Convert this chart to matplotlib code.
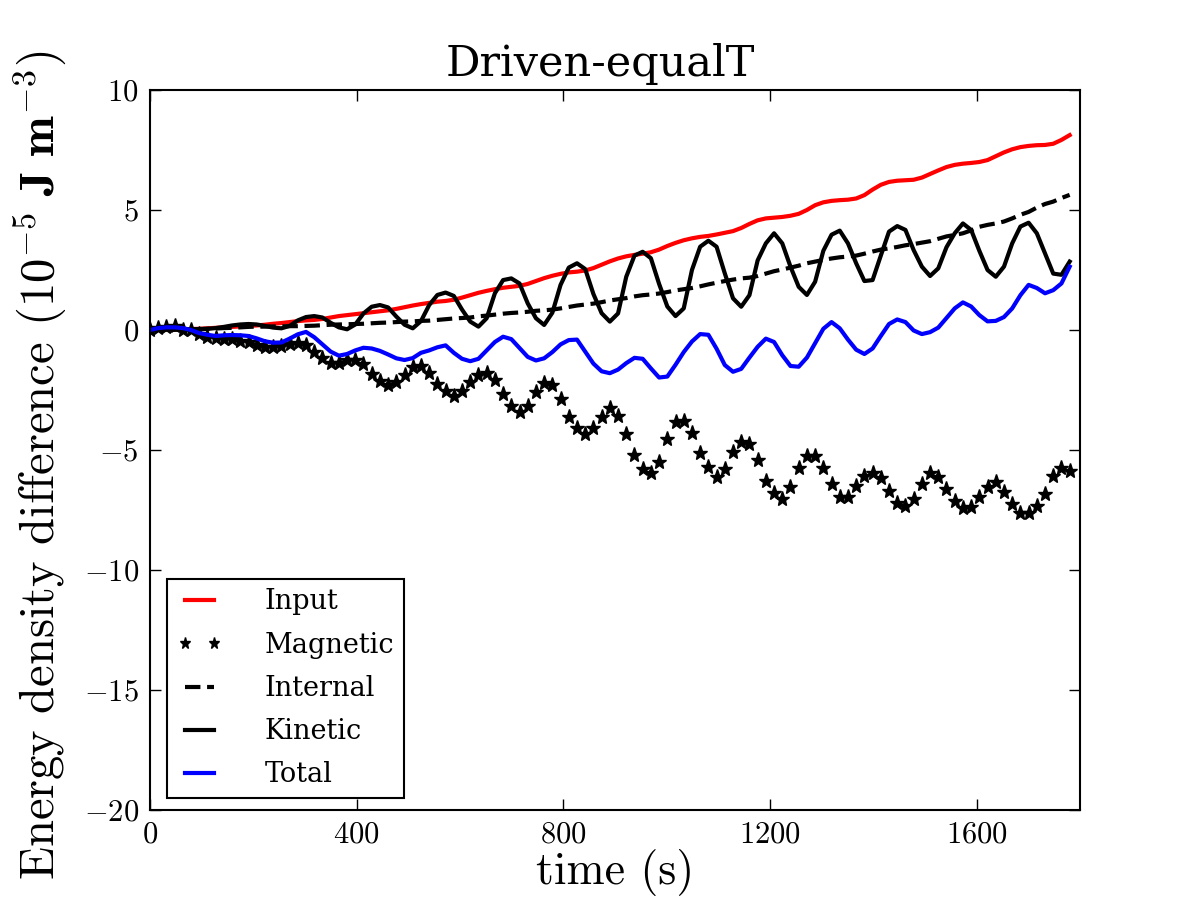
#!/usr/bin/env python3
"""Energy density differences for the Driven-equalT run."""

import numpy as np
import matplotlib
matplotlib.use("Agg")
import matplotlib.pyplot as plt

# energy density differences in units of 1e-5 J m^-3, sampled every ~15.9 s
energy_input = [
    0.0, 0.0, 0.01, 0.02, 0.03, 0.04, 0.05, 0.07, 0.09, 0.11,
    0.13, 0.15, 0.17, 0.19, 0.22, 0.26, 0.29, 0.33, 0.37, 0.4,
    0.42, 0.46, 0.52, 0.58, 0.62, 0.66, 0.7, 0.74, 0.78, 0.82,
    0.88, 0.95, 1.02, 1.08, 1.13, 1.18, 1.21, 1.26, 1.35, 1.45,
    1.55, 1.63, 1.7, 1.76, 1.8, 1.84, 1.92, 2.04, 2.16, 2.26,
    2.34, 2.4, 2.43, 2.48, 2.58, 2.72, 2.86, 2.98, 3.07, 3.13,
    3.18, 3.24, 3.35, 3.5, 3.63, 3.74, 3.82, 3.88, 3.92, 3.98,
    4.05, 4.12, 4.25, 4.42, 4.57, 4.65, 4.68, 4.71, 4.76, 4.84,
    5.0, 5.2, 5.32, 5.38, 5.41, 5.43, 5.48, 5.62, 5.85, 6.05,
    6.17, 6.22, 6.24, 6.26, 6.35, 6.5, 6.65, 6.79, 6.88, 6.93,
    6.96, 7.0, 7.08, 7.24, 7.4, 7.53, 7.62, 7.67, 7.7, 7.71,
    7.76, 7.92, 8.12,
]
magnetic = [
    0.0, 0.07, 0.14, 0.15, 0.02, 0.0, -0.18, -0.3, -0.34, -0.38,
    -0.39, -0.44, -0.52, -0.63, -0.69, -0.71, -0.66, -0.58, -0.53, -0.62,
    -0.9, -1.18, -1.39, -1.38, -1.25, -1.25, -1.42, -1.82, -2.14, -2.29,
    -2.15, -1.875, -1.53, -1.5, -1.8, -2.25, -2.54, -2.75, -2.54, -2.17,
    -1.875, -1.78, -2.08, -2.67, -3.17, -3.4, -3.17, -2.58, -2.19, -2.29,
    -2.875, -3.64, -4.1, -4.33, -4.1, -3.64, -3.26, -3.58, -4.33, -5.2,
    -5.81, -5.97, -5.49, -4.56, -3.85, -3.78, -4.28, -5.11, -5.72, -6.14,
    -5.81, -5.07, -4.65, -4.76, -5.42, -6.28, -6.81, -7.04, -6.56, -5.76,
    -5.25, -5.25, -5.76, -6.42, -6.94, -6.94, -6.5, -6.08, -5.94, -6.18,
    -6.72, -7.22, -7.33, -7.04, -6.42, -5.97, -6.14, -6.63, -7.13, -7.43,
    -7.39, -6.94, -6.53, -6.32, -6.74, -7.25, -7.64, -7.61, -7.33, -6.83,
    -6.08, -5.76, -5.86,
]
internal = [
    0.0, 0.0, 0.01, 0.01, 0.02, 0.03, 0.04, 0.05, 0.06, 0.08,
    0.09, 0.11, 0.13, 0.14, 0.14, 0.15, 0.15, 0.16, 0.16, 0.17,
    0.18, 0.2, 0.22, 0.23, 0.24, 0.25, 0.26, 0.28, 0.3, 0.31,
    0.33, 0.35, 0.36, 0.38, 0.39, 0.42, 0.45, 0.48, 0.5, 0.52,
    0.57, 0.6, 0.64, 0.68, 0.71, 0.73, 0.76, 0.8, 0.82, 0.85,
    0.9, 0.96, 1.02, 1.06, 1.1, 1.16, 1.23, 1.28, 1.33, 1.4,
    1.45, 1.48, 1.52, 1.58, 1.65, 1.7, 1.75, 1.82, 1.9, 1.97,
    2.04, 2.1, 2.15, 2.18, 2.25, 2.35, 2.45, 2.52, 2.6, 2.68,
    2.78, 2.85, 2.92, 2.98, 3.03, 3.06, 3.1, 3.18, 3.27, 3.35,
    3.4, 3.46, 3.53, 3.58, 3.64, 3.7, 3.8, 3.9, 3.96, 4.03,
    4.15, 4.3, 4.38, 4.44, 4.52, 4.65, 4.8, 4.92, 5.1, 5.25,
    5.35, 5.5, 5.63,
]
kinetic = [
    0.0, 0.01, 0.02, 0.03, 0.03, 0.03, 0.03, 0.05, 0.08, 0.13,
    0.19, 0.23, 0.25, 0.23, 0.17, 0.1, 0.07, 0.17, 0.4, 0.54,
    0.58, 0.52, 0.3, 0.11, 0.03, 0.23, 0.69, 0.97, 1.04, 0.94,
    0.56, 0.22, 0.07, 0.37, 1.04, 1.46, 1.56, 1.42, 0.85, 0.35,
    0.14, 0.49, 1.53, 2.08, 2.15, 1.94, 1.11, 0.49, 0.21, 0.72,
    1.88, 2.6, 2.78, 2.54, 1.5, 0.7, 0.35, 0.69, 2.22, 3.1,
    3.26, 2.99, 1.92, 0.98, 0.58, 0.9, 2.5, 3.47, 3.72, 3.47,
    2.36, 1.32, 0.97, 1.45, 2.9, 3.61, 4.03, 3.61, 2.64, 1.8,
    1.46, 2.01, 3.3, 3.97, 4.14, 3.61, 2.78, 2.04, 2.08, 3.1,
    4.1, 4.33, 4.17, 3.33, 2.64, 2.25, 2.57, 3.45, 4.03, 4.44,
    4.17, 3.3, 2.5, 2.22, 2.64, 3.61, 4.31, 4.47, 4.03, 3.19,
    2.35, 2.3, 2.85,
]
total = [
    0.0, 0.08, 0.11, 0.11, 0.08, 0.0, -0.13, -0.2, -0.25, -0.22,
    -0.21, -0.22, -0.25, -0.35, -0.47, -0.53, -0.52, -0.36, -0.18, -0.08,
    -0.3, -0.6, -0.9, -1.07, -1.0, -0.85, -0.74, -0.77, -0.87, -1.02,
    -1.18, -1.25, -1.17, -0.95, -0.85, -0.72, -0.64, -0.95, -1.2, -1.3,
    -1.2, -0.85, -0.5, -0.28, -0.38, -0.75, -1.12, -1.27, -1.18, -0.92,
    -0.6, -0.42, -0.4, -0.9, -1.4, -1.72, -1.8, -1.65, -1.38, -1.16,
    -1.2, -1.6, -1.98, -1.94, -1.45, -0.92, -0.48, -0.17, -0.2, -0.78,
    -1.46, -1.74, -1.62, -1.15, -0.7, -0.36, -0.5, -1.05, -1.5, -1.53,
    -1.15, -0.55, 0.05, 0.33, 0.07, -0.4, -0.82, -1.0, -0.77, -0.25,
    0.25, 0.44, 0.33, -0.02, -0.17, -0.09, 0.1, 0.5, 0.9, 1.15,
    0.98, 0.62, 0.36, 0.38, 0.54, 0.9, 1.45, 1.88, 1.75, 1.53,
    1.66, 1.94, 2.64,
]
time = np.linspace(0.0, 1780.0, len(magnetic))

x_ticks = [0, 400, 800, 1200, 1600]
y_ticks = [-20, -15, -10, -5, 0, 5, 10]

plt.rcParams["font.family"] = "cmr10"
plt.rcParams["mathtext.fontset"] = "cm"
plt.rcParams["axes.formatter.use_mathtext"] = True
plt.rcParams["axes.unicode_minus"] = True

fig = plt.figure(figsize=(12, 9), dpi=100)
ax = fig.add_axes([0.125, 0.1, 0.775, 0.8])

ax.plot(time, energy_input, color="red", lw=3, label="Input")
ax.plot(time, magnetic, "*", color="black", ms=11, mec="black", label="Magnetic")
ax.plot(time, internal, "--", color="black", lw=3, label="Internal")
ax.plot(time, kinetic, "-", color="black", lw=3, label="Kinetic")
ax.plot(time, total, color="blue", lw=3, label="Total")

ax.set_xlim(0, 1800); ax.set_ylim(-20, 10)
ax.set_xticks(x_ticks); ax.set_yticks(y_ticks)
ax.tick_params(direction="in", length=8, width=1, labelsize=22, top=True, right=True, pad=8)
for spine in ax.spines.values():
    spine.set_linewidth(1.5)

ax.set_xlabel("time (s)", fontsize=33, labelpad=0)
ax.set_ylabel(r"Energy density difference ($10^{-5}\ \mathbf{J\ m}^{-3}$)", fontsize=35)
ax.yaxis.set_label_coords(-0.088, 0.479)
ax.set_title("Driven-equalT", fontsize=31, family="DejaVu Serif", pad=10, x=0.484)

leg = ax.legend(loc="lower left", bbox_to_anchor=(0.0183, 0.0167), numpoints=2, fancybox=False,
                framealpha=1, edgecolor="black", prop={"family": "DejaVu Serif", "size": 19.5},
                handlelength=1.7, handletextpad=1.55, labelspacing=0.6, borderpad=0.35,
                borderaxespad=0.0, markerscale=0.75)
leg.get_frame().set_linewidth(1.5)

fig.savefig("out.png", dpi=100)
plt.close(fig)
